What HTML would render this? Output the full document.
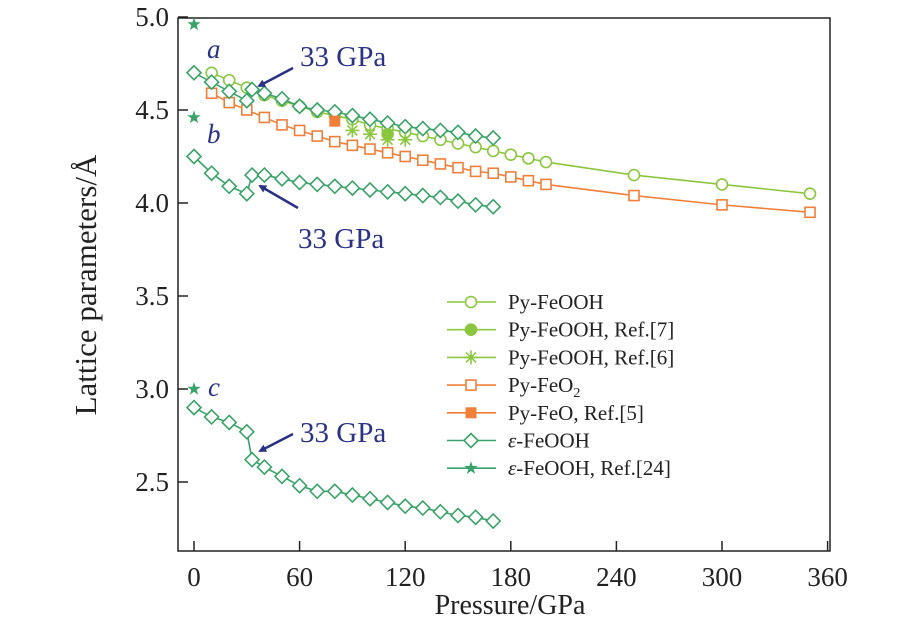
<!DOCTYPE html>
<html><head><meta charset="utf-8"><style>
body{margin:0;background:#fff}
svg{display:block;font-family:"Liberation Serif",serif}
</style></head><body>
<svg id="chart" width="921" height="632"></svg>
<script>
const xTicks=[0,60,120,180,240,300,360];
const yTicks=[2.5,3.0,3.5,4.0,4.5,5.0];
const pyP=[10,20,30,40,50,60,70,80,90,100,110,120,130,140,150,160,170,180,190,200,250,300,350];
const pyFeOOH=[4.70,4.66,4.62,4.58,4.55,4.52,4.49,4.47,4.45,4.42,4.40,4.38,4.36,4.34,4.32,4.30,4.28,4.26,4.24,4.22,4.15,4.10,4.05];
const pyFeO2=[4.59,4.54,4.50,4.46,4.42,4.39,4.36,4.33,4.31,4.29,4.27,4.25,4.23,4.21,4.19,4.17,4.16,4.14,4.12,4.10,4.04,3.99,3.95];
const ref7P=[110], ref7V=[4.37];
const ref6P=[90,100,110,120], ref6V=[4.39,4.37,4.34,4.34];
const ref5P=[80], ref5V=[4.44];
const epsP=[0,10,20,30,33,40,50,60,70,80,90,100,110,120,130,140,150,160,170];
const epsA=[4.70,4.65,4.60,4.55,4.61,4.59,4.56,4.52,4.50,4.49,4.47,4.45,4.43,4.41,4.40,4.39,4.38,4.36,4.35];
const epsB=[4.25,4.16,4.09,4.05,4.15,4.15,4.13,4.11,4.10,4.09,4.08,4.07,4.06,4.05,4.04,4.03,4.01,3.99,3.98];
const epsC=[2.90,2.85,2.82,2.77,2.62,2.58,2.53,2.48,2.45,2.45,2.43,2.41,2.39,2.37,2.36,2.34,2.32,2.31,2.29];
const ref24P=[0,0,0], ref24V=[4.96,4.46,3.00];

const NS="http://www.w3.org/2000/svg";
const svg=document.getElementById('chart');
const X0=178,X1=830,Y0=18,Y1=551;
const xs=p=>194+1.76*p;
const ys=v=>17+(5-v)*186;
const LG="#8cc63f",OR="#f07f3a",GR="#3aa26a",NV="#2b3184";
function mk(tag,at,parent){const e=document.createElementNS(NS,tag);for(const k in at)e.setAttribute(k,at[k]);(parent||svg).appendChild(e);return e;}
function txt(s,x,y,at){const t=mk('text',Object.assign({x:x,y:y},at));t.textContent=s;return t;}

const frame=mk('rect',{x:X0,y:Y0,width:X1-X0,height:Y1-Y0,fill:'none',stroke:'#222','stroke-width':1.5});


xTicks.forEach(t=>{
  const l=mk('line',{x1:xs(t),x2:xs(t),y1:Y1,y2:Y1-10,stroke:'#222','stroke-width':1.5});
  
  
  const tl=txt(String(t),xs(t),586,{'font-size':27,'text-anchor':'middle',fill:'#222'});
  
  
});
yTicks.forEach(t=>{
  const l=mk('line',{x1:X0,x2:X0+10,y1:ys(t),y2:ys(t),stroke:'#222','stroke-width':1.5});
  
  
  const tl=txt(t.toFixed(1),169,ys(t)+9,{'font-size':27,'text-anchor':'end',fill:'#222'});
  
  
});
const xt=txt('Pressure/GPa',510,614,{'font-size':28,'text-anchor':'middle',fill:'#222'});


const yt=txt('Lattice parameters/Å',0,0,{'font-size':31,'text-anchor':'middle',fill:'#222',transform:'translate(96,285) rotate(-90)'});



function marker(type,x,y,c,g){
  if(type==='circle')mk('circle',{cx:x,cy:y,r:5.5,fill:'#fff',stroke:c,'stroke-width':1.6},g);
  else if(type==='fcircle')mk('circle',{cx:x,cy:y,r:5.5,fill:c,stroke:c,'stroke-width':1.6},g);
  else if(type==='square')mk('rect',{x:x-5,y:y-5,width:10,height:10,fill:'#fff',stroke:c,'stroke-width':1.6},g);
  else if(type==='fsquare')mk('rect',{x:x-5,y:y-5,width:10,height:10,fill:c,stroke:c},g);
  else if(type==='diamond')mk('path',{d:`M${x},${y-7}L${x+7},${y}L${x},${y+7}L${x-7},${y}Z`,fill:'#fff',stroke:c,'stroke-width':1.6},g);
  else if(type==='star'){let d='';for(let i=0;i<10;i++){const r=i%2?2.8:7,a=-Math.PI/2+i*Math.PI/5;d+=(i?'L':'M')+(x+r*Math.cos(a)).toFixed(1)+','+(y+r*Math.sin(a)).toFixed(1);}mk('path',{d:d+'Z',fill:c},g);}
  else if(type==='asterisk'){for(let i=0;i<4;i++){const a=i*Math.PI/4;mk('line',{x1:x-7*Math.cos(a),y1:y-7*Math.sin(a),x2:x+7*Math.cos(a),y2:y+7*Math.sin(a),stroke:c,'stroke-width':1.6},g);}}
}
function series(name,P,V,c,type,line){
  const g=mk('g',{});
  
  
  if(line)mk('polyline',{points:P.map((p,i)=>xs(p)+','+ys(V[i])).join(' '),fill:'none',stroke:c,'stroke-width':1.6},g);
  P.forEach((p,i)=>marker(type,xs(p),ys(V[i]),c,g));
}
series('series-py-feo2',pyP,pyFeO2,OR,'square',true);
series('series-py-feooh',pyP,pyFeOOH,LG,'circle',true);
series('series-eps-feooh-a',epsP,epsA,GR,'diamond',true);
series('series-eps-feooh-b',epsP,epsB,GR,'diamond',true);
series('series-eps-feooh-c',epsP,epsC,GR,'diamond',true);
series('series-py-feo-ref5',ref5P,ref5V,OR,'fsquare',false);
series('series-py-feooh-ref6',ref6P,ref6V,LG,'asterisk',false);
series('series-py-feooh-ref7',ref7P,ref7V,LG,'fcircle',false);
series('series-eps-feooh-ref24',ref24P,ref24V,GR,'star',false);

[['a',207,58],['b',207,143],['c',208,396]].forEach(a=>{
  const t=txt(a[0],a[1],a[2],{'font-size':27,'font-style':'italic',fill:NV});
  
  
});
mk('defs',{}).innerHTML='<marker id="ah" markerWidth="8" markerHeight="8" refX="6" refY="4" orient="auto" markerUnits="userSpaceOnUse" viewBox="0 0 8 8"><path d="M0,0L8,4L0,8Z" fill="'+NV+'"/></marker>';
[[293,68,259,86,300,66],[298,208,260,186,298,248],[293,434,260,451,300,442]].forEach((a,i)=>{
  const l=mk('line',{x1:a[0],y1:a[1],x2:a[2],y2:a[3],stroke:NV,'stroke-width':2.5,'marker-end':'url(#ah)'});
  
  
  const t=txt('33 GPa',a[4],a[5],{'font-size':29,fill:NV});
  
  
});

const leg=[['Py-FeOOH',LG,'circle'],['Py-FeOOH, Ref.[7]',LG,'fcircle'],['Py-FeOOH, Ref.[6]',LG,'asterisk'],['Py-FeO₂',OR,'square'],['Py-FeO, Ref.[5]',OR,'fsquare'],['ε-FeOOH',GR,'diamond'],['ε-FeOOH, Ref.[24]',GR,'star']];
leg.forEach((e,i)=>{
  const y=302+i*27.7;
  const g=mk('g',{});
  
  
  mk('line',{x1:447,x2:496,y1:y,y2:y,stroke:e[1],'stroke-width':1.6},g);
  marker(e[2],471,y,e[1],g);
  const t=mk('text',{x:508,y:y+7,'font-size':21,fill:'#222'},g);
  if(e[0].startsWith('ε')){const s=mk('tspan',{'font-style':'italic'},t);s.textContent='ε';const r=mk('tspan',{},t);r.textContent=e[0].slice(1);}
  else if(e[0]==='Py-FeO₂'){const s=mk('tspan',{},t);s.textContent='Py-FeO';const r=mk('tspan',{'font-size':14,dy:5},t);r.textContent='2';}
  else t.textContent=e[0];
});
</script>
</body></html>
